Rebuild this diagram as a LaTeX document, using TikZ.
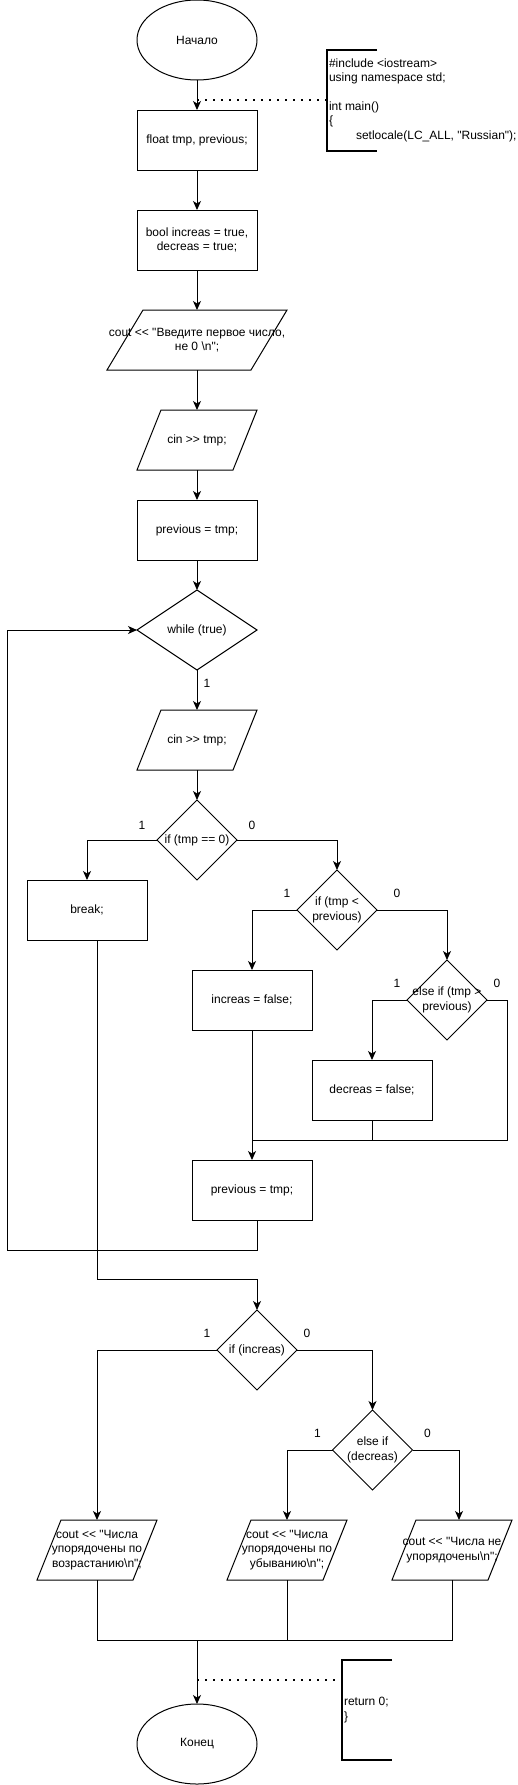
\documentclass[tikz,border=0pt]{standalone}
\usepackage{fontspec}
\newfontfamily\dfont{Liberation Sans}
\usetikzlibrary{shapes.geometric,arrows.meta}
\begin{document}
\begin{tikzpicture}[x=1pt,y=-1pt,line width=1pt,
	every node/.style={font=\dfont\fontsize{12}{14.4}\selectfont,inner sep=0pt,outer sep=0pt},
	every label/.style={align=center,inner sep=0pt},
	term/.style={draw,ellipse,minimum width=120pt,minimum height=80pt},
	proc/.style={draw,rectangle,minimum width=120pt,minimum height=60pt,align=center},
	io/.style={draw,trapezium,trapezium left angle=71.565,trapezium right angle=108.435,trapezium stretches=true,inner sep=2pt,minimum height=60pt},
	dec/.style={draw,diamond,inner sep=2pt,minimum width=80pt,minimum height=80pt},
	arr/.style={-{Stealth[length=9pt,width=8pt,inset=2.5pt]}},
	dots/.style={line width=1.6pt,dash pattern=on 1.6pt off 6.4pt},
	brace/.style={line width=2pt}]
	\useasboundingbox (0,0) rectangle (517,1785);
	\node[term] (start) at (197,40) {Начало};
	\node[proc] (b1) at (197,140) {float tmp, previous;};
	\node[proc] (b2) at (197,240) {bool increas = true,\\decreas = true;};
	\node[io,minimum width=180pt,label={center:cout << "Введите первое число,\\не 0 \textbackslash n";}] (p1) at (197,340) {};
	\node[io,minimum width=120pt,label={center:cin >> tmp;}] (p2) at (197,440) {};
	\node[proc] (b3) at (197,530) {previous = tmp;};
	\node[dec,minimum width=120pt,label={center:while (true)}] (w) at (197,630) {};
	\node[io,minimum width=120pt,label={center:cin >> tmp;}] (p3) at (197,740) {};
	\node[dec,label={center:if (tmp == 0)}] (d2) at (197,840) {};
	\node[proc] (brk) at (87,910) {break;};
	\node[dec,label={center:if (tmp <\\previous)}] (d3) at (337,910) {};
	\node[proc] (inc) at (252,1000) {increas = false;};
	\node[dec,label={center:else if (tmp >\\previous)}] (d4) at (447,1000) {};
	\node[proc] (dec) at (372,1090) {decreas = false;};
	\node[proc] (prev2) at (252,1190) {previous = tmp;};
	\node[dec,label={center:if (increas)}] (d5) at (257,1350) {};
	\node[dec,label={center:else if\\(decreas)}] (d6) at (372.5,1450) {};
	\node[io,minimum width=120pt,label={center:cout << "Числа\\упорядочены по\\возрастанию\textbackslash n";}] (pA) at (97,1550) {};
	\node[io,minimum width=120pt,label={center:cout << "Числа\\упорядочены по\\убыванию\textbackslash n";}] (pB) at (287,1550) {};
	\node[io,minimum width=120pt,label={center:cout << "Числа не\\упорядочены\textbackslash n";}] (pC) at (452,1550) {};
	\node[term] (end) at (197,1744) {Конец};
	\node[anchor=west,align=left] (code) at (329,100) {\#include <iostream>\\using namespace std;\\[14.4pt]int main()\\\{\\\hspace*{27pt}setlocale(LC\_ALL, "Russian");};
	\node[anchor=west,align=left] (ret) at (344,1710) {return 0;\\\}};
	\coordinate (n1) at (327,100);
	\coordinate (n2) at (342,1680);
	\coordinate (join) at (252,1140);
	\coordinate (back) at (7,1250);
	\coordinate (merge) at (197,1640);
	\draw[brace] (377,50) -- (327,50) -- (327,151) -- (377,151);
	\draw[brace] (392,1660) -- (342,1660) -- (342,1760) -- (392,1760);
	\draw[dots] (b1.north |- n1) -- (n1);
	\draw[dots] (end.north |- n2) -- (n2);
	\draw[arr] (start.south) -- (b1.north);
	\draw[arr] (b1.south) -- (b2.north);
	\draw[arr] (b2.south) -- (p1.north);
	\draw[arr] (p1.south) -- (p2.north);
	\draw[arr] (p2.south) -- (b3.north);
	\draw[arr] (b3.south) -- (w.north);
	\draw[arr] (w.south) node[xshift=10pt,yshift=-13pt] {1} -- (p3.north);
	\draw[arr] (p3.south) -- (d2.north);
	\draw[arr] (d2.west) node[xshift=-15pt,yshift=15pt] {1} -| (brk.north);
	\draw[arr] (d2.east) node[xshift=15pt,yshift=15pt] {0} -| (d3.north);
	\draw[arr] (d3.west) node[xshift=-10pt,yshift=17pt] {1} -| (inc.north);
	\draw[arr] (d3.east) node[xshift=20pt,yshift=17pt] {0} -| (d4.north);
	\draw[arr] (d4.west) node[xshift=-10pt,yshift=17pt] {1} -| (dec.north);
	\draw (d4.east) node[xshift=10pt,yshift=17pt] {0} -- ++(20,0) |- (join);
	\draw (dec.south) -- (dec.south |- join);
	\draw[arr] (inc.south) -- (prev2.north);
	\draw[arr] ([xshift=5pt]prev2.south) |- (back) |- (w.west);
	\draw[arr] ([xshift=10pt]brk.south) |- ([yshift=31pt]d5.north) -- (d5.north);
	\draw[arr] (d5.west) node[xshift=-10pt,yshift=17pt] {1} -| (pA.north);
	\draw[arr] (d5.east) node[xshift=10pt,yshift=17pt] {0} -| (d6.north);
	\draw[arr] (d6.west) node[xshift=-15pt,yshift=17pt] {1} -| (pB.north);
	\draw[arr] (d6.east) node[xshift=15pt,yshift=17pt] {0} -| ([xshift=7pt]pC.north);
	\draw (pA.south) |- (pC.south |- merge) -- (pC.south);
	\draw (pB.south) -- (pB.south |- merge);
	\draw[arr] (merge) -- (end.north);
\end{tikzpicture}
\end{document}
